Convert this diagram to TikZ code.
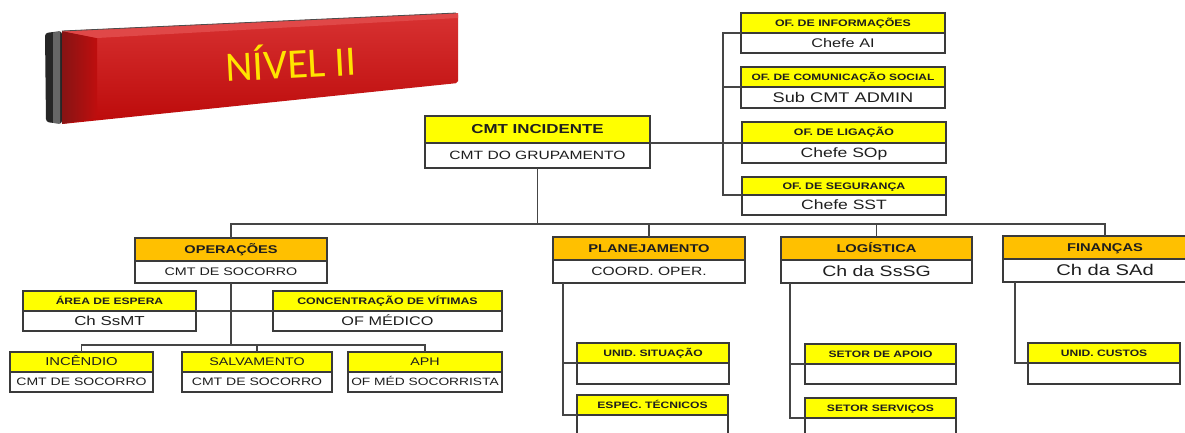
\documentclass[tikz,border=0pt]{standalone}
\usepackage{fontspec}
\setmainfont[FakeStretch=1.3]{Liberation Sans}
\newfontfamily\banfont{Carlito}
\usetikzlibrary{calc}
\definecolor{hy}{HTML}{FFFF00}
\definecolor{ho}{HTML}{FFC000}
\definecolor{bc}{HTML}{3A3A3A}
\definecolor{lc}{HTML}{454545}
\definecolor{tc}{HTML}{1E1E1E}
\definecolor{redA}{HTML}{D83232}
\definecolor{redB}{HTML}{BC0A0A}
\definecolor{redD}{HTML}{861414}
\definecolor{redT}{HTML}{E04848}
\definecolor{ban}{HTML}{FFE400}
\newcommand\rtx[2]{\fontsize{#1}{#1}\selectfont\vphantom{X}\smash{#2}}
\newcommand\btx[2]{\fontsize{#1}{#1}\selectfont\bfseries\vphantom{X}\smash{#2}}
\tikzset{
  boxbase/.style={draw=bc, line width=1.2pt, inner sep=0pt, outer sep=0pt, anchor=north west, text=tc},
  ybox/.style={boxbase, fill=hy},
  obox/.style={boxbase, fill=ho},
  wbox/.style={boxbase, fill=white},
  conn/.style={draw=lc, line width=1.1pt},
}
\newcommand\orgbox[9]{%
  \node[#7, minimum width={(#6-#2)*1pt}, minimum height={(#4-#3)*1pt}] (#1h) at (#2,#3) {#8};
  \node[wbox, minimum width={(#6-#2)*1pt}, minimum height={(#5-#4)*1pt}] (#1) at (#2,#4) {#9};
}
\begin{document}
\begin{tikzpicture}[x=1pt,y=-1pt]
\useasboundingbox (0,0) rectangle (1185,432);
\fill[white] (0,0) rectangle (1185,432);
\clip (0,0) rectangle (1185,432);
% banner
\fill[black!85, rounded corners=3pt] (45,33) -- (62,31) -- (62,124) -- (46,122) -- cycle;
\fill[black!60] (53,32.5) -- (60,31.5) -- (60,123.5) -- (53,122.8) -- cycle;
\shade[top color=redA, bottom color=redB, rounded corners=2pt] (62,31) -- (458,13) -- (458,83) -- (62,124) -- cycle;
\shade[left color=redD, right color=redB!90!redA] (62,31) -- (97,38) -- (97,118) -- (62,124) -- cycle;
\fill[redT] (62,31) -- (458,13) -- (458,18) -- (97,38) -- cycle;
\draw[black!70, line width=0.8pt] (62,31) -- (456,13);
\node[rotate=3, text=ban, inner sep=0pt] (lvl) at (291,65) {\banfont\fontsize{42}{42}\selectfont\vphantom{X}\smash{NÍVEL II}};
% boxes
\orgbox{cmt}{425}{116}{143}{168}{650}{ybox}{\btx{13}{CMT INCIDENTE}}{\rtx{12}{CMT DO GRUPAMENTO}}
\orgbox{info}{741}{13}{33}{53}{945}{ybox}{\btx{9.5}{OF. DE INFORMAÇÕES}}{\rtx{12.5}{Chefe AI}}
\orgbox{com}{741}{67}{87}{108}{945}{ybox}{\btx{9.2}{OF. DE COMUNICAÇÃO SOCIAL}}{\rtx{14}{Sub CMT ADMIN}}
\orgbox{lig}{742}{122}{143}{163}{946}{ybox}{\btx{9.5}{OF. DE LIGAÇÃO}}{\rtx{13.5}{Chefe SOp}}
\orgbox{seg}{742}{177}{195}{215}{946}{ybox}{\btx{9.5}{OF. DE SEGURANÇA}}{\rtx{13.5}{Chefe SST}}
\orgbox{ops}{135}{238}{261}{283}{327}{obox}{\btx{11.2}{OPERAÇÕES}}{\rtx{11}{CMT DE SOCORRO}}
\orgbox{area}{23}{291}{311}{331}{196}{ybox}{\btx{9.3}{ÁREA DE ESPERA}}{\rtx{13}{Ch SsMT}}
\orgbox{conc}{273}{291}{311}{331}{502}{ybox}{\btx{9.5}{CONCENTRAÇÃO DE VÍTIMAS}}{\rtx{12.5}{OF MÉDICO}}
\orgbox{inc}{10}{352}{372}{392}{153}{ybox}{\rtx{11.4}{INCÊNDIO}}{\rtx{10.8}{CMT DE SOCORRO}}
\orgbox{salv}{182}{352}{372}{392}{332}{ybox}{\rtx{11}{SALVAMENTO}}{\rtx{10.8}{CMT DE SOCORRO}}
\orgbox{aph}{348}{352}{372}{392}{502}{ybox}{\rtx{11}{APH}}{\rtx{10.6}{OF MÉD SOCORRISTA}}
\orgbox{plan}{553}{237}{260}{283}{745}{obox}{\btx{11.3}{PLANEJAMENTO}}{\rtx{12}{COORD. OPER.}}
\orgbox{uni}{577}{343}{363}{384}{729}{ybox}{\btx{9.3}{UNID. SITUAÇÃO}}{}
\orgbox{esp}{577}{395}{415}{445}{728}{ybox}{\btx{9.3}{ESPEC. TÉCNICOS}}{}
\orgbox{log}{781}{237}{260}{283}{972}{obox}{\btx{11.3}{LOGÍSTICA}}{\rtx{15}{Ch da SsSG}}
\orgbox{apo}{805}{344}{364}{384}{956}{ybox}{\btx{9.3}{SETOR DE APOIO}}{}
\orgbox{sers}{805}{398}{418}{445}{956}{ybox}{\btx{9.3}{SETOR SERVIÇOS}}{}
\orgbox{fin}{1003}{236}{259}{282}{1207}{obox}{\btx{11.3}{FINANÇAS}}{\rtx{15.5}{Ch da SAd}}
\orgbox{cust}{1028}{343}{363}{384}{1180}{ybox}{\btx{9.3}{UNID. CUSTOS}}{}
% connectors
\coordinate (bus) at (0,224);
\draw[conn] (opsh.north) -- (opsh.north |- bus) -- (finh.north |- bus) -- (finh.north);
\draw[conn] (cmt.south) -- (cmt.south |- bus);
\draw[conn] (planh.north) -- (planh.north |- bus);
\draw[conn] (logh.north) -- (logh.north |- bus);
\coordinate (rv) at (723,0);
\draw[conn] (infoh.south west) -- (infoh.south west -| rv) -- (segh.south west -| rv) -- (segh.south west);
\draw[conn] (comh.south west) -- (comh.south west -| rv);
\draw[conn] (cmth.south east) -- (ligh.south west);
\coordinate (lowbus) at (0,345);
\draw[conn] (ops.south) -- (ops.south |- lowbus);
\draw[conn] (inch.north) -- (inch.north |- lowbus) -- (aphh.north |- lowbus) -- (aphh.north);
\draw[conn] (salvh.north) -- (salvh.north |- lowbus);
\draw[conn] (areah.south east) -- (conch.south west);
\coordinate (pv) at (563,0);
\draw[conn] (plan.south -| pv) -- (esph.south west -| pv) -- (esph.south west);
\draw[conn] (unih.south west -| pv) -- (unih.south west);
\coordinate (lv) at (790,0);
\draw[conn] (log.south -| lv) -- (sersh.south west -| lv) -- (sersh.south west);
\draw[conn] (apoh.south west -| lv) -- (apoh.south west);
\coordinate (fv) at (1015,0);
\draw[conn] (fin.south -| fv) -- (custh.south west -| fv) -- (custh.south west);
\end{tikzpicture}
\end{document}
